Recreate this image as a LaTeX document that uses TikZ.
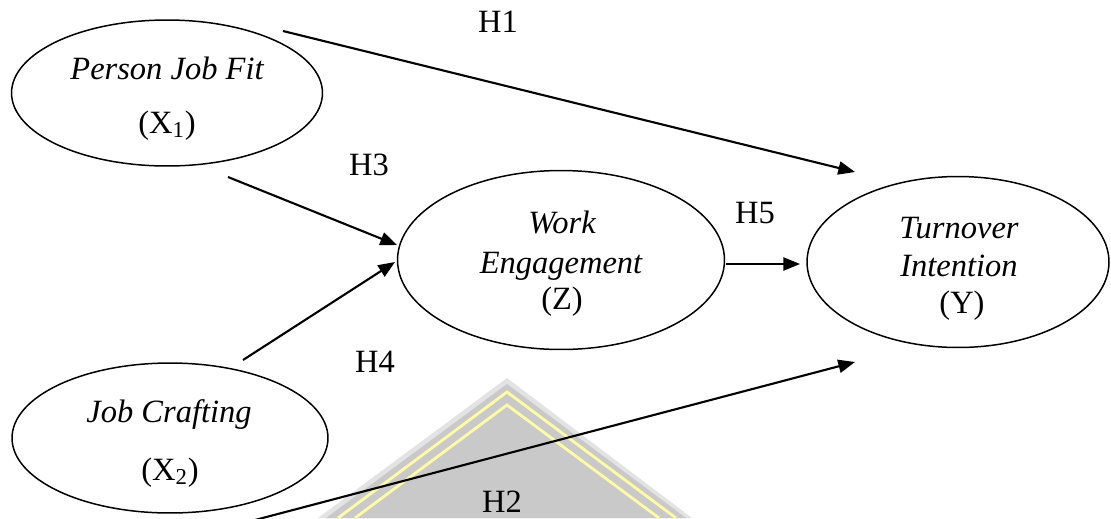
\documentclass[tikz,border=0pt]{standalone}
\usepackage{fontspec}
\setmainfont{Liberation Serif}
\usetikzlibrary{arrows.meta,shapes.geometric}
\begin{document}
\begin{tikzpicture}[x=0.02cm,y=-0.02cm,
  var/.style={draw=black,line width=0.85pt,ellipse,inner sep=0pt},
  txt/.style={anchor=base,inner sep=0pt,font=\fontsize{18.5}{22}\selectfont},
  itxt/.style={txt,font=\fontsize{18.5}{22}\selectfont\itshape},
  path/.style={line width=1.2pt,-{Triangle[length=9.5pt,width=7.5pt]}}]
\useasboundingbox (0,0) rectangle (1111,518);
% watermark
\begin{scope}
\clip (0,0) rectangle (1111,518);
\fill[gray!22] (507,378) -- (318,518) -- (692,518) -- cycle;
\fill[gray!42] (507,384) -- (326,518) -- (686,518) -- cycle;
\draw[yellow!35!white,line width=1.6pt] (338,518) -- (507,392) -- (676,518);
\draw[yellow!35!white,line width=1.6pt] (355,518) -- (507,405) -- (659,518);
\end{scope}
% ellipses
\node[var,minimum width=6.22cm,minimum height=2.92cm] (x1) at (167,93) {};
\node[var,minimum width=6.32cm,minimum height=3.0cm] (x2) at (170,438) {};
\node[var,minimum width=6.54cm,minimum height=3.58cm] (z) at (561,260) {};
\node[var,minimum width=6.04cm,minimum height=3.42cm] (y) at (958,262) {};
% texts
\node[itxt] (x1a) at (167,79) {Person Job Fit};
\node[txt] (x1b) at (167,133) {(X\textsubscript{1})};
\node[itxt] (x2a) at (169,422) {Job Crafting};
\node[txt] (x2b) at (170,480) {(X\textsubscript{2})};
\node[itxt] (za) at (562,233) {Work};
\node[itxt] (zb) at (561,273) {Engagement};
\node[txt] (zc) at (562,309) {(Z)};
\node[itxt] (ya) at (959,238) {Turnover};
\node[itxt] (yb) at (959,276) {Intention};
\node[txt] (yc) at (962,313) {(Y)};
% hypothesis labels
\node[txt] (h1) at (498,32) {H1};
\node[txt] (h3) at (369,175) {H3};
\node[txt] (h5) at (755,223) {H5};
\node[txt] (h4) at (375,372) {H4};
\node[txt] (h2) at (502,512) {H2};
% connector ends
\coordinate (h1s) at (283,31);  \coordinate (h1e) at (855,172);
\coordinate (h3s) at (228,177); \coordinate (h3e) at (397,245);
\coordinate (h4s) at (243,360); \coordinate (h4e) at (395,262);
\coordinate (h5s) at (726,264); \coordinate (h5e) at (800,264);
\coordinate (h2s) at (255,520); \coordinate (h2e) at (855,362);
\draw[path] (h1s) -- (h1e);
\draw[path] (h3s) -- (h3e);
\draw[path] (h4s) -- (h4e);
\draw[path] (h5s) -- (h5e);
\draw[path] (h2s) -- (h2e);
\end{tikzpicture}
\end{document}
